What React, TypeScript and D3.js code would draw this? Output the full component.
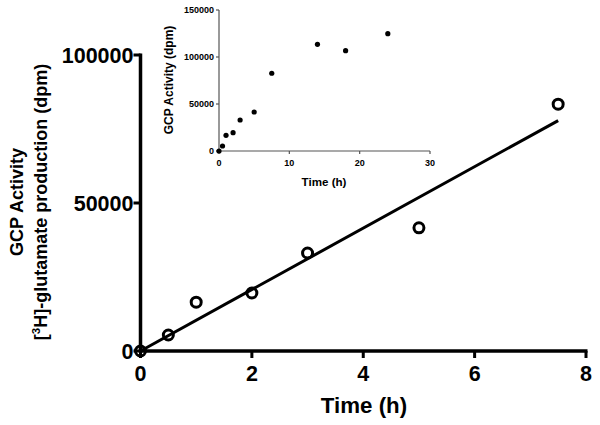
import React from "react";
import * as d3 from "d3";

const mainTimes = [0, 0.5, 1, 2, 3, 5, 7.5];
const mainValues = [0, 5400, 16500, 19600, 33100, 41600, 83400];
const mainXTicks = [0, 2, 4, 6, 8];
const mainYTicks = [0, 50000, 100000];

const insetTimes = [0, 0.5, 1, 2, 3, 5, 7.5, 14, 18, 24];
const insetValues = [0, 5300, 16700, 19500, 33000, 41500, 82700, 113500, 106700, 124800];
const insetXTicks = [0, 10, 20, 30];
const insetYTicks = [0, 50000, 100000, 150000];

const FONT = "Arial, 'Liberation Sans', sans-serif";

export default function App() {
  const W = 600, H = 425;
  const x = d3.scaleLinear().domain([0, 8]).range([140.5, 586]);
  const y = d3.scaleLinear().domain([0, 100000]).range([351, 55]);
  const xi = d3.scaleLinear().domain([0, 30]).range([219, 430]);
  const yi = d3.scaleLinear().domain([0, 150000]).range([151, 10]);

  // linear regression through origin
  const sxy = d3.sum(mainTimes.map((t, i) => t * mainValues[i]));
  const sxx = d3.sum(mainTimes.map((t) => t * t));
  const slope = sxy / sxx;
  const xMax = d3.max(mainTimes) as number;
  const fitLine = d3.line<number>().x((t) => x(t)).y((t) => y(slope * t))([0, xMax]);

  return (
    <svg width={W} height={H} style={{ position: "absolute", left: 0, top: 0, background: "#fff" }} fontFamily={FONT}>
      <rect width={W} height={H} fill="#fff" />
      {/* Main axes */}
      <line x1={x(0)} x2={x(8) + 1.5} y1={y(0)} y2={y(0)} stroke="#000" strokeWidth={3.5} />
      <line x1={x(0)} x2={x(0)} y1={y(0) + 1.5} y2={y(100000) - 1.5} stroke="#000" strokeWidth={3.5} />
      {mainXTicks.map((t) => (
        <g key={"mx" + t}>
          <line x1={x(t)} x2={x(t)} y1={y(0)} y2={y(0) + 7} stroke="#000" strokeWidth={3} />
          <text x={x(t)} y={y(0) + 29.5} textAnchor="middle" fontSize={21.5} fontWeight="bold">{t}</text>
        </g>
      ))}
      {mainYTicks.map((v) => (
        <g key={"my" + v}>
          <line x1={x(0) - 7} x2={x(0)} y1={y(v)} y2={y(v)} stroke="#000" strokeWidth={3} />
          <text x={x(0) - 7} y={y(v) + 7.5} textAnchor="end" fontSize={21.5} fontWeight="bold">{v}</text>
        </g>
      ))}
      <text x={364} y={412.5} textAnchor="middle" fontSize={22.3} fontWeight="bold">Time (h)</text>
      <g transform="translate(0,202) rotate(-90)">
        <text x={0} y={23} textAnchor="middle" fontSize={18} fontWeight="bold">GCP Activity</text>
        <text x={0} y={47} textAnchor="middle" fontSize={18} fontWeight="bold">
          [<tspan fontSize={11.5} dy={-7.5}>3</tspan><tspan dy={7.5}>H]-glutamate production (dpm)</tspan>
        </text>
      </g>
      {/* fit line */}
      <path d={fitLine || ""} fill="none" stroke="#000" strokeWidth={3} />
      {/* main points */}
      {mainTimes.map((t, i) => (
        <circle key={"mp" + i} cx={x(t)} cy={y(mainValues[i])} r={5} fill="none" stroke="#000" strokeWidth={3} />
      ))}

      {/* Inset */}
      <line x1={xi(0)} x2={xi(30)} y1={yi(0)} y2={yi(0)} stroke="#555" strokeWidth={1.2} />
      <line x1={xi(0)} x2={xi(0)} y1={yi(0)} y2={yi(150000)} stroke="#555" strokeWidth={1.2} />
      {insetXTicks.map((t) => (
        <g key={"ix" + t}>
          <line x1={xi(t)} x2={xi(t)} y1={yi(0)} y2={yi(0) + 3} stroke="#555" strokeWidth={1.2} />
          <text x={xi(t)} y={yi(0) + 15} textAnchor="middle" fontSize={9} fontWeight="bold">{t}</text>
        </g>
      ))}
      {insetYTicks.map((v) => (
        <g key={"iy" + v}>
          <line x1={xi(0) - 3} x2={xi(0)} y1={yi(v)} y2={yi(v)} stroke="#555" strokeWidth={1.2} />
          <text x={xi(0) - 5} y={yi(v) + 3.2} textAnchor="end" fontSize={9} fontWeight="bold">{v}</text>
        </g>
      ))}
      <text x={324} y={186} textAnchor="middle" fontSize={11.6} fontWeight="bold">Time (h)</text>
      <text transform="translate(173,80) rotate(-90)" textAnchor="middle" fontSize={12} fontWeight="bold">GCP Activity (dpm)</text>
      {insetTimes.map((t, i) => (
        <circle key={"ip" + i} cx={xi(t)} cy={yi(insetValues[i])} r={2.6} fill="#000" />
      ))}
    </svg>
  );
}
